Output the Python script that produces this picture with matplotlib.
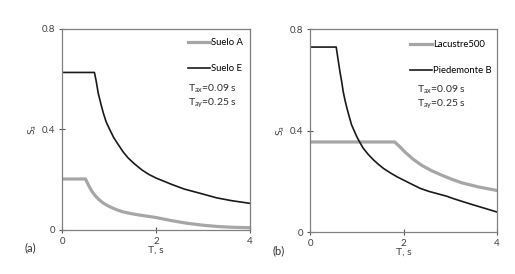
import matplotlib
matplotlib.use("Agg")
import matplotlib.pyplot as plt

plt.rcParams["font.family"] = ["Lato", "DejaVu Sans"]
plt.rcParams["mathtext.default"] = "regular"

# panel (a)
t_suelo_a = [0.0, 0.5, 0.57, 0.64, 0.71, 0.78, 0.88, 0.99, 1.13, 1.28, 1.45, 1.63, 1.99, 2.34, 2.65, 3.0, 3.3, 3.6, 4.0]
sa_suelo_a = [0.203, 0.203, 0.176, 0.153, 0.136, 0.122, 0.107, 0.095, 0.083, 0.073, 0.066, 0.06, 0.05, 0.037, 0.027, 0.019, 0.014, 0.011, 0.009]
t_suelo_e = [0.0, 0.69, 0.73, 0.77, 0.83, 0.88, 0.94, 1.02, 1.1, 1.2, 1.3, 1.41, 1.55, 1.7, 1.85, 2.01, 2.13, 2.34, 2.6, 2.94, 3.29, 3.6, 4.0]
sa_suelo_e = [0.627, 0.627, 0.59, 0.545, 0.5, 0.465, 0.43, 0.398, 0.368, 0.339, 0.311, 0.286, 0.262, 0.239, 0.221, 0.206, 0.197, 0.181, 0.163, 0.146, 0.128, 0.117, 0.106]

# panel (b)
t_lacustre = [0.0, 1.81, 1.9, 2.04, 2.2, 2.39, 2.6, 2.82, 3.05, 3.25, 3.6, 4.0]
sa_lacustre = [0.355, 0.355, 0.34, 0.314, 0.288, 0.263, 0.242, 0.224, 0.207, 0.194, 0.178, 0.164]
t_piedemonte = [0.0, 0.56, 0.6, 0.64, 0.68, 0.71, 0.75, 0.79, 0.84, 0.89, 0.95, 1.0, 1.07, 1.14, 1.25, 1.36, 1.47, 1.57, 1.72, 1.86, 2.0, 2.14, 2.36, 2.55, 2.75, 2.93, 3.05, 3.2, 3.46, 3.75, 4.0]
sa_piedemonte = [0.729, 0.729, 0.68, 0.632, 0.59, 0.553, 0.518, 0.488, 0.454, 0.422, 0.397, 0.376, 0.352, 0.33, 0.305, 0.284, 0.266, 0.251, 0.233, 0.218, 0.205, 0.192, 0.172, 0.16, 0.15, 0.141, 0.133, 0.124, 0.109, 0.093, 0.079]

panels = [
    ("(a)", [0.1204, 0.1606, 0.365, 0.7336],
     [(t_suelo_a, sa_suelo_a, "Suelo A"), (t_suelo_e, sa_suelo_e, "Suelo E")],
     (0.67, 0.955), (0.67, 0.665)),
    ("(b)", [0.602, 0.153, 0.363, 0.741],
     [(t_lacustre, sa_lacustre, "Lacustre500"), (t_piedemonte, sa_piedemonte, "Piedemonte B")],
     (0.535, 0.945), (0.57, 0.665)),
]

fig = plt.figure(figsize=(5.15, 2.74), dpi=100)

for tag, rect, series, leg_pos, txt_pos in panels:
    ax = fig.add_axes(rect)
    (t1, s1, l1), (t2, s2, l2) = series
    ax.plot(t1, s1, color="#a6a6a6", lw=2.3, label=l1, solid_joinstyle="round")
    ax.plot(t2, s2, color="#1a1a1a", lw=1.2, label=l2, solid_joinstyle="round")

    ax.set_xlim(0, 4)
    ax.set_ylim(0, 0.8)
    ax.set_xticks([0, 2, 4])
    ax.set_yticks([0, 0.4, 0.8])
    ax.set_xticklabels(["0", "2", "4"])
    ax.set_yticklabels(["0", "0.4", "0.8"])
    ax.tick_params(direction="inout", length=4, width=0.8, color="#555555",
                   labelsize=7, labelcolor="#404040", pad=3)
    for sp in ax.spines.values():
        sp.set_color("#808080")
        sp.set_linewidth(0.9)

    ax.set_xlabel("T, s", fontsize=7.5, color="#404040", labelpad=0)
    ax.set_ylabel("S$_a$", fontsize=7.5, color="#404040", labelpad=2)
    ax.text(-0.2, -0.09, tag, transform=ax.transAxes, fontsize=8,
            color="#303030", ha="left", va="center")

    ax.legend(frameon=False, loc="upper left", bbox_to_anchor=leg_pos,
              fontsize=6.8, handlelength=2.3, handletextpad=0.1,
              labelspacing=1.8, borderpad=0, borderaxespad=0)
    ax.text(txt_pos[0], txt_pos[1], "T$_{ax}$=0.09 s\nT$_{ay}$=0.25 s",
            transform=ax.transAxes, fontsize=7.5, color="#303030",
            ha="left", va="center", linespacing=1.25)

fig.savefig("out.png", dpi=100)
